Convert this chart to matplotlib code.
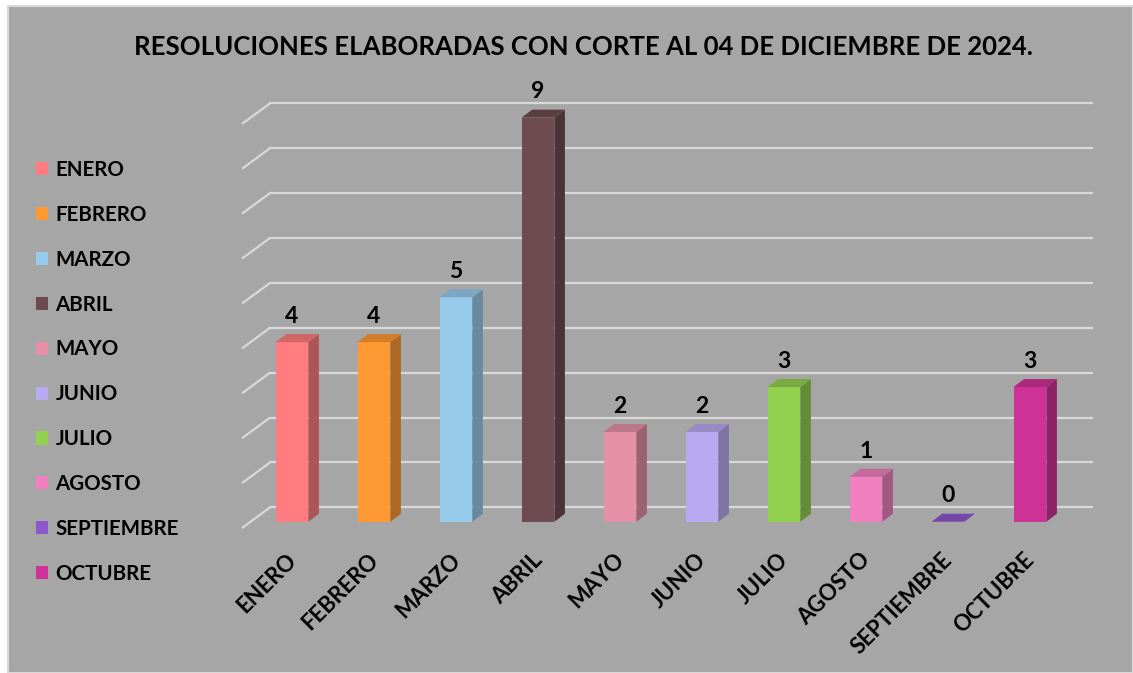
import matplotlib.pyplot as plt
import matplotlib.colors as mcolors
from matplotlib.patches import Polygon, Patch, Rectangle

meses = ['ENERO', 'FEBRERO', 'MARZO', 'ABRIL', 'MAYO', 'JUNIO', 'JULIO',
         'AGOSTO', 'SEPTIEMBRE', 'OCTUBRE']
valores = [4, 4, 5, 9, 2, 2, 3, 1, 0, 3]
colores = ['#FF7C80', '#FF9933', '#97CBEB', '#6E4B51', '#E690A8', '#B9A9F0',
           '#92D050', '#F080C0', '#9056CC', '#CF3296']
titulo = 'RESOLUCIONES ELABORADAS CON CORTE AL 04 DE DICIEMBRE DE 2024.'

FUENTE = ['Lato', 'DejaVu Sans']
FONDO = '#A6A6A6'
GRID = '#D9D9D9'

W, H = 1133, 673


def oscurecer(c, f):
    r, g, b = mcolors.to_rgb(c)
    return (r * f, g * f, b * f)


fig = plt.figure(figsize=(W / 100, H / 100), dpi=100, facecolor='white')
fig.patches.append(Rectangle((8 / W, 0), 1 - 8 / W, 1 - 6 / H, transform=fig.transFigure,
                             facecolor=FONDO, edgecolor=GRID, lw=1.5, zorder=-5))

# ejes colocados a mano: 82 px por categoria, 44.9 px por unidad
ax = fig.add_axes([242 / W, 1 - 535.2 / H, 849.5 / W, 444.5 / H])
ax.set_xlim(-0.61, 9.75)
ax.set_ylim(-0.3, 9.6)
ax.axis('off')

# profundidad del suelo / pared y de las barras (unidades de datos)
pdx, pdy = 0.342, 0.46
bdx, bdy = 0.128, 0.178
ancho = 0.40

# rejilla en la pared del fondo + diagonales del suelo
for v in range(0, 10):
    ax.plot([-0.61, -0.61 + pdx], [v - 0.14, v - 0.14 + pdy], color=GRID, lw=1.6,
            zorder=1, clip_on=False, solid_capstyle='butt')
    ax.plot([-0.61 + pdx, 9.75], [v - 0.14 + pdy, v - 0.14 + pdy], color=GRID,
            lw=1.6, zorder=1, clip_on=False)

x = list(range(len(meses)))
ax.bar(x, valores, width=ancho, color=colores, zorder=3)

for i, v in enumerate(valores):
    c = colores[i]
    xr = i + ancho / 2
    xl = i - ancho / 2
    lado = Polygon([(xr, 0), (xr + bdx, bdy), (xr + bdx, v + bdy), (xr, v)],
                   closed=True, facecolor=oscurecer(c, 0.68), edgecolor='none', zorder=2)
    tapa = Polygon([(xl, v), (xr, v), (xr + bdx, v + bdy), (xl + bdx, v + bdy)],
                   closed=True, facecolor=oscurecer(c, 0.82), edgecolor='none', zorder=4)
    ax.add_patch(lado)
    ax.add_patch(tapa)
    ax.text(i, v + 0.43, str(v), ha='center', va='baseline', fontsize=16.5,
            fontweight='bold', family=FUENTE, color='black', clip_on=False)
    ax.text(i - 0.08, -0.61, meses[i], rotation=45, rotation_mode='anchor',
            ha='right', va='top', fontsize=15.8, fontweight='bold', family=FUENTE,
            color='black', clip_on=False)

fig.text(583.5 / W, 1 - 47 / H, titulo, ha='center', va='center', fontsize=18.5,
         fontweight='bold', family=FUENTE, color='black')

handles = [Patch(facecolor=c, edgecolor='none') for c in colores]
fig.legend(handles, meses, loc='upper left', bbox_to_anchor=(36 / W, 1 - 160 / H),
           frameon=False, borderpad=0, borderaxespad=0, handlelength=0.6,
           handleheight=0.6, handletextpad=0.35, labelspacing=1.21,
           prop={'family': FUENTE, 'weight': 'bold', 'size': 14.8})

plt.savefig('out.png', dpi=100, facecolor='white')
